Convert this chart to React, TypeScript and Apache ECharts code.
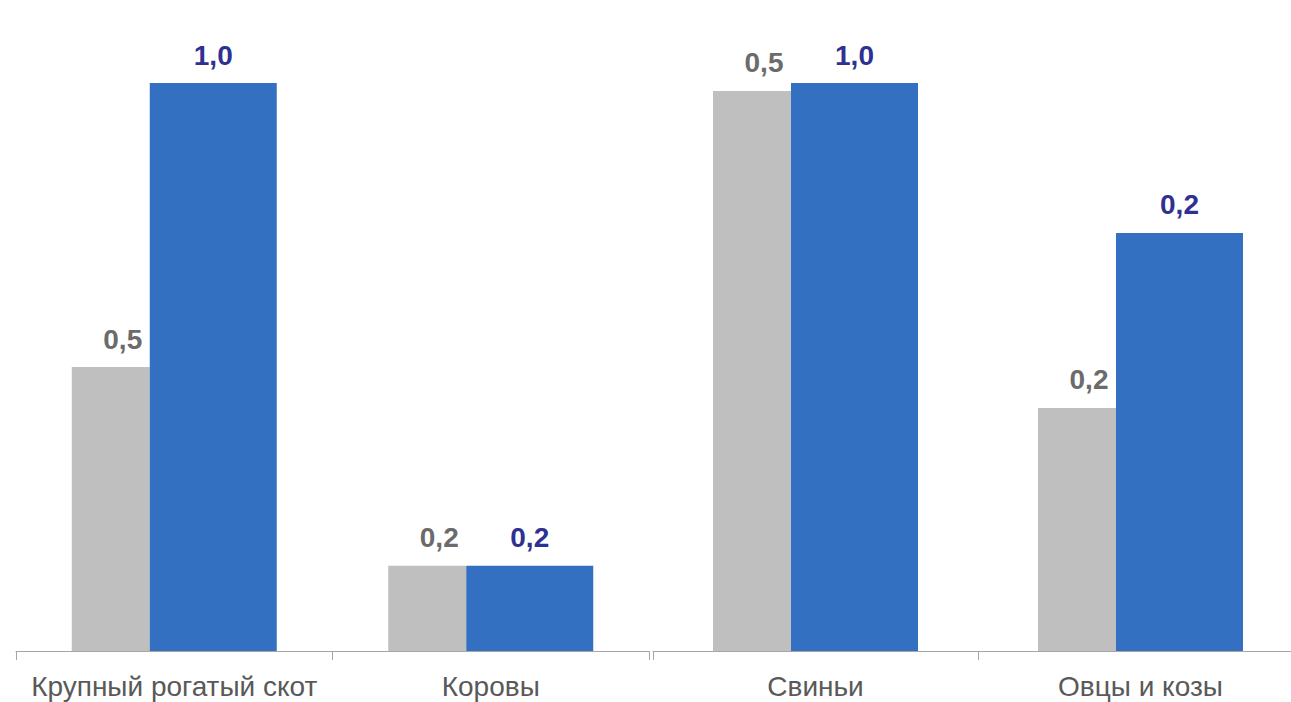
import React, { useEffect, useRef } from "react";
import * as echarts from "echarts";

const leftCategories = ["Крупный рогатый скот", "Коровы"];
const rightCategories = ["Свиньи", "Овцы и козы"];
const leftGray = [0.5, 0.15];
const leftBlue = [1.0, 0.15];
const rightGray = [0.986, 0.428];
const rightBlue = [1.0, 0.736];
const leftGrayLabels = ["0,5", "0,2"];
const leftBlueLabels = ["1,0", "0,2"];
const rightGrayLabels = ["0,5", "0,2"];
const rightBlueLabels = ["1,0", "0,2"];

const FONT = "'Liberation Sans', Arial, sans-serif";

export default function App() {
  const ref = useRef<HTMLDivElement>(null);
  useEffect(() => {
    document.body.style.overflow = "hidden";
    if (!ref.current) return;
    const chart = echarts.init(ref.current, null, { renderer: "svg" });
    const axisCommon = (cats: string[]) => ({
      type: "category" as const,
      data: cats,
      axisLine: { lineStyle: { color: "#A6A6A6", width: 1 } },
      axisTick: { show: true, length: 9, lineStyle: { color: "#A6A6A6" } },
      axisLabel: { color: "#595959", fontSize: 28, fontFamily: FONT, margin: 21, interval: 0 },
    });
    const yCommon = {
      type: "value" as const,
      min: 0,
      max: 1,
      show: false,
      splitLine: { show: false },
    };
    const grayLabel = (labels: string[]) => ({
      show: true,
      position: "top" as const,
      distance: 14,
      offset: [12, 0],
      color: "#6B6B6B",
      fontSize: 28,
      fontWeight: "bold" as const,
      fontFamily: FONT,
      formatter: (p: any) => labels[p.dataIndex],
    });
    const blueLabel = (labels: string[]) => ({
      show: true,
      position: "top" as const,
      distance: 14,
      color: "#2F3192",
      fontSize: 28,
      fontWeight: "bold" as const,
      fontFamily: FONT,
      formatter: (p: any) => labels[p.dataIndex],
    });
    chart.setOption({
      animation: false,
      grid: [
        { left: 16, width: 633, top: 83, bottom: 51 },
        { left: 653, width: 650, top: 83, bottom: 51 },
      ],
      xAxis: [
        { ...axisCommon(leftCategories), gridIndex: 0 },
        { ...axisCommon(rightCategories), gridIndex: 1 },
      ],
      yAxis: [
        { ...yCommon, gridIndex: 0 },
        { ...yCommon, gridIndex: 1 },
      ],
      series: [
        {
          type: "bar",
          xAxisIndex: 0,
          yAxisIndex: 0,
          data: leftGray,
          barWidth: 78,
          barGap: "0%",
          itemStyle: { color: "#BFBFBF" },
          label: grayLabel(leftGrayLabels),
        },
        {
          type: "bar",
          xAxisIndex: 0,
          yAxisIndex: 0,
          data: leftBlue,
          barWidth: 127,
          barGap: "0%",
          itemStyle: { color: "#3470C2" },
          label: blueLabel(leftBlueLabels),
        },
        {
          type: "bar",
          xAxisIndex: 1,
          yAxisIndex: 1,
          data: rightGray,
          barWidth: 78,
          barGap: "0%",
          itemStyle: { color: "#BFBFBF" },
          label: grayLabel(rightGrayLabels),
        },
        {
          type: "bar",
          xAxisIndex: 1,
          yAxisIndex: 1,
          data: rightBlue,
          barWidth: 127,
          barGap: "0%",
          itemStyle: { color: "#3470C2" },
          label: blueLabel(rightBlueLabels),
        },
      ],
    });
    return () => chart.dispose();
  }, []);
  return (
    <div
      ref={ref}
      style={{ position: "fixed", left: 0, top: 0, width: 1320, height: 702, background: "#fff" }}
    />
  );
}
